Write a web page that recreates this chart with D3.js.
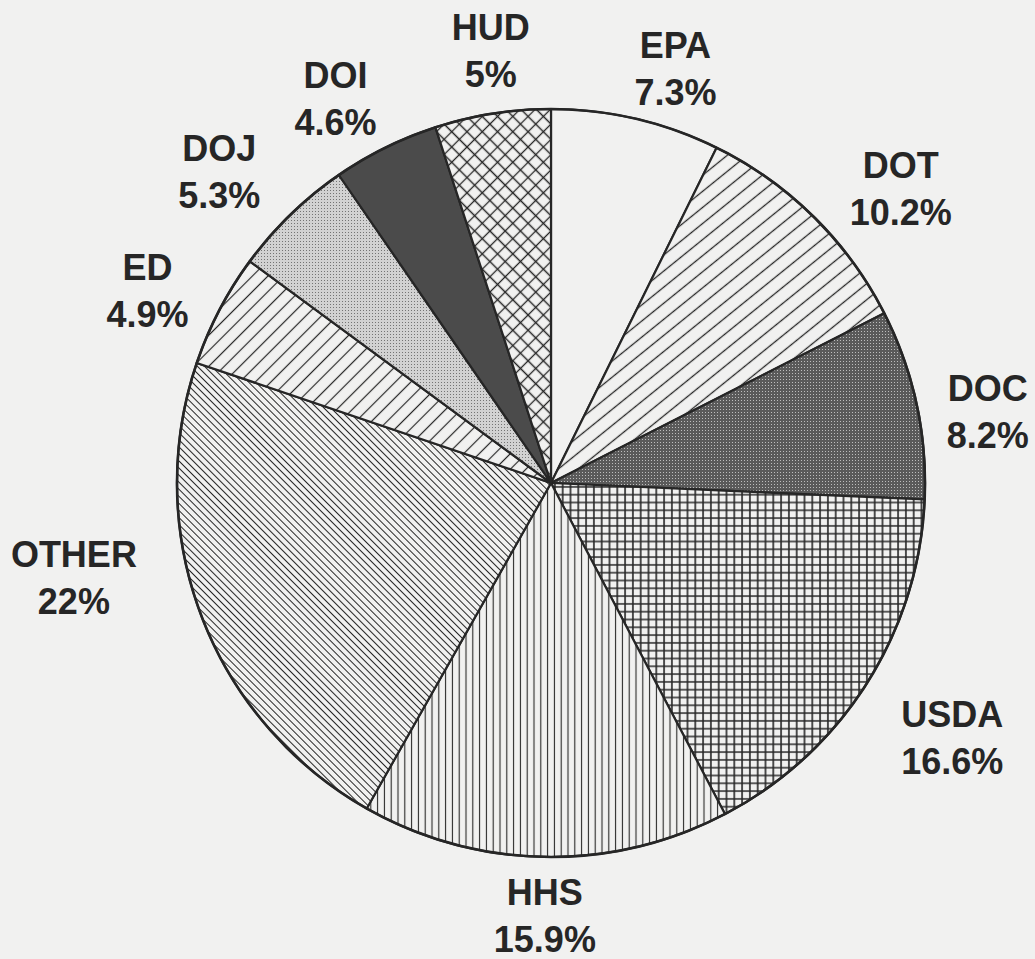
<!DOCTYPE html>
<html>
<head>
<meta charset="utf-8">
<script src="https://cdn.jsdelivr.net/npm/d3@7"></script>
<style>
  html, body { margin: 0; padding: 0; background: #f1f1f0; }
  svg { display: block; }
</style>
</head>
<body>
<div id="chart"></div>
<script>
// ---- data ----
const departments = ["EPA", "DOT", "DOC", "USDA", "HHS", "OTHER", "ED", "DOJ", "DOI", "HUD"];
const shares = [7.3, 10.2, 8.2, 16.6, 15.9, 22, 4.9, 5.3, 4.6, 5];
const shareLabels = ["7.3%", "10.2%", "8.2%", "16.6%", "15.9%", "22%", "4.9%", "5.3%", "4.6%", "5%"];

// ---- layout / style ----
const W = 1035, H = 959;
const cx = 551, cy = 483, R = 374;
const labelRadius = 455;
const labelNudge = {
  EPA: [21, 18], DOT: [30, 19], DOC: [-8, 14], USDA: [17, 0], HHS: [1, -33],
  OTHER: [-52, -78], ED: [0, 7], DOJ: [-15, 5], DOI: [-14, 13], HUD: [11, 6]
};
const paper = "#f1f1f0";
const ink = "#262626";
const fontSize = 36;

const svg = d3.select("#chart").append("svg").attr("width", W).attr("height", H);
svg.append("rect").attr("width", W).attr("height", H).attr("fill", paper);

const defs = svg.append("defs");

function linePattern(id, spacing, angle, sw) {
  const p = defs.append("pattern").attr("id", id)
    .attr("patternUnits", "userSpaceOnUse")
    .attr("width", spacing).attr("height", spacing)
    .attr("patternTransform", `rotate(${angle})`);
  p.append("rect").attr("width", spacing).attr("height", spacing).attr("fill", paper);
  p.append("line").attr("x1", spacing / 2).attr("x2", spacing / 2)
    .attr("y1", -1).attr("y2", spacing + 1)
    .attr("stroke", ink).attr("stroke-width", sw);
}
function gridPattern(id, size, angle, sw) {
  const p = defs.append("pattern").attr("id", id)
    .attr("patternUnits", "userSpaceOnUse")
    .attr("width", size).attr("height", size)
    .attr("patternTransform", `rotate(${angle})`);
  p.append("rect").attr("width", size).attr("height", size).attr("fill", paper);
  p.append("path").attr("d", `M0,${size/2}H${size}M${size/2},0V${size}`)
    .attr("stroke", ink).attr("stroke-width", sw).attr("fill", "none");
}
function dotPattern(id, bg, dot) {
  const p = defs.append("pattern").attr("id", id)
    .attr("patternUnits", "userSpaceOnUse").attr("width", 3).attr("height", 3);
  p.append("rect").attr("width", 3).attr("height", 3).attr("fill", bg);
  p.append("rect").attr("x", 1).attr("y", 1).attr("width", 1).attr("height", 1).attr("fill", dot);
}

linePattern("p-dot", 12.5, 51, 1.3);
dotPattern("p-doc", "#5a5a5a", "#bdbdbd");
gridPattern("p-usda", 7.8, 0, 1.6);
linePattern("p-hhs", 6.8, 0, 1.1);
linePattern("p-other", 5, -45, 1.05);
linePattern("p-ed", 11, 45, 1.2);
dotPattern("p-doj", "#d2d2d2", "#747474");
gridPattern("p-hud", 10.8, 45, 1.3);

const fills = {
  EPA: paper, DOT: "url(#p-dot)", DOC: "url(#p-doc)", USDA: "url(#p-usda)",
  HHS: "url(#p-hhs)", OTHER: "url(#p-other)", ED: "url(#p-ed)",
  DOJ: "url(#p-doj)", DOI: "#4b4b4b", HUD: "url(#p-hud)"
};

const data = departments.map((d, i) => ({ name: d, value: shares[i], label: shareLabels[i] }));
const pie = d3.pie().value(d => d.value).sort(null);
const arcs = pie(data);
const arc = d3.arc().innerRadius(0).outerRadius(R);
const labelArc = d3.arc().innerRadius(labelRadius).outerRadius(labelRadius);

const g = svg.append("g").attr("transform", `translate(${cx},${cy})`);
g.selectAll("path.slice").data(arcs).enter().append("path")
  .attr("class", "slice")
  .attr("d", arc)
  .attr("fill", d => fills[d.data.name])
  .attr("stroke", ink)
  .attr("stroke-width", 2.2)
  .attr("stroke-linejoin", "round");

g.append("circle").attr("r", R).attr("fill", "none").attr("stroke", ink).attr("stroke-width", 2.6);

const labels = g.selectAll("g.lab").data(arcs).enter().append("g")
  .attr("class", "lab")
  .attr("transform", d => {
    const c = labelArc.centroid(d);
    const n = labelNudge[d.data.name];
    return `translate(${c[0] + n[0]},${c[1] + n[1]})`;
  });
labels.append("text")
  .attr("text-anchor", "middle")
  .attr("font-family", "'Liberation Sans', Arial, Helvetica, sans-serif")
  .attr("font-weight", "bold")
  .attr("font-size", fontSize)
  .attr("fill", ink)
  .text(d => d.data.name);
labels.append("text")
  .attr("text-anchor", "middle")
  .attr("y", 47)
  .attr("font-family", "'Liberation Sans', Arial, Helvetica, sans-serif")
  .attr("font-weight", "bold")
  .attr("font-size", fontSize)
  .attr("fill", ink)
  .text(d => d.data.label);
</script>
</body>
</html>
